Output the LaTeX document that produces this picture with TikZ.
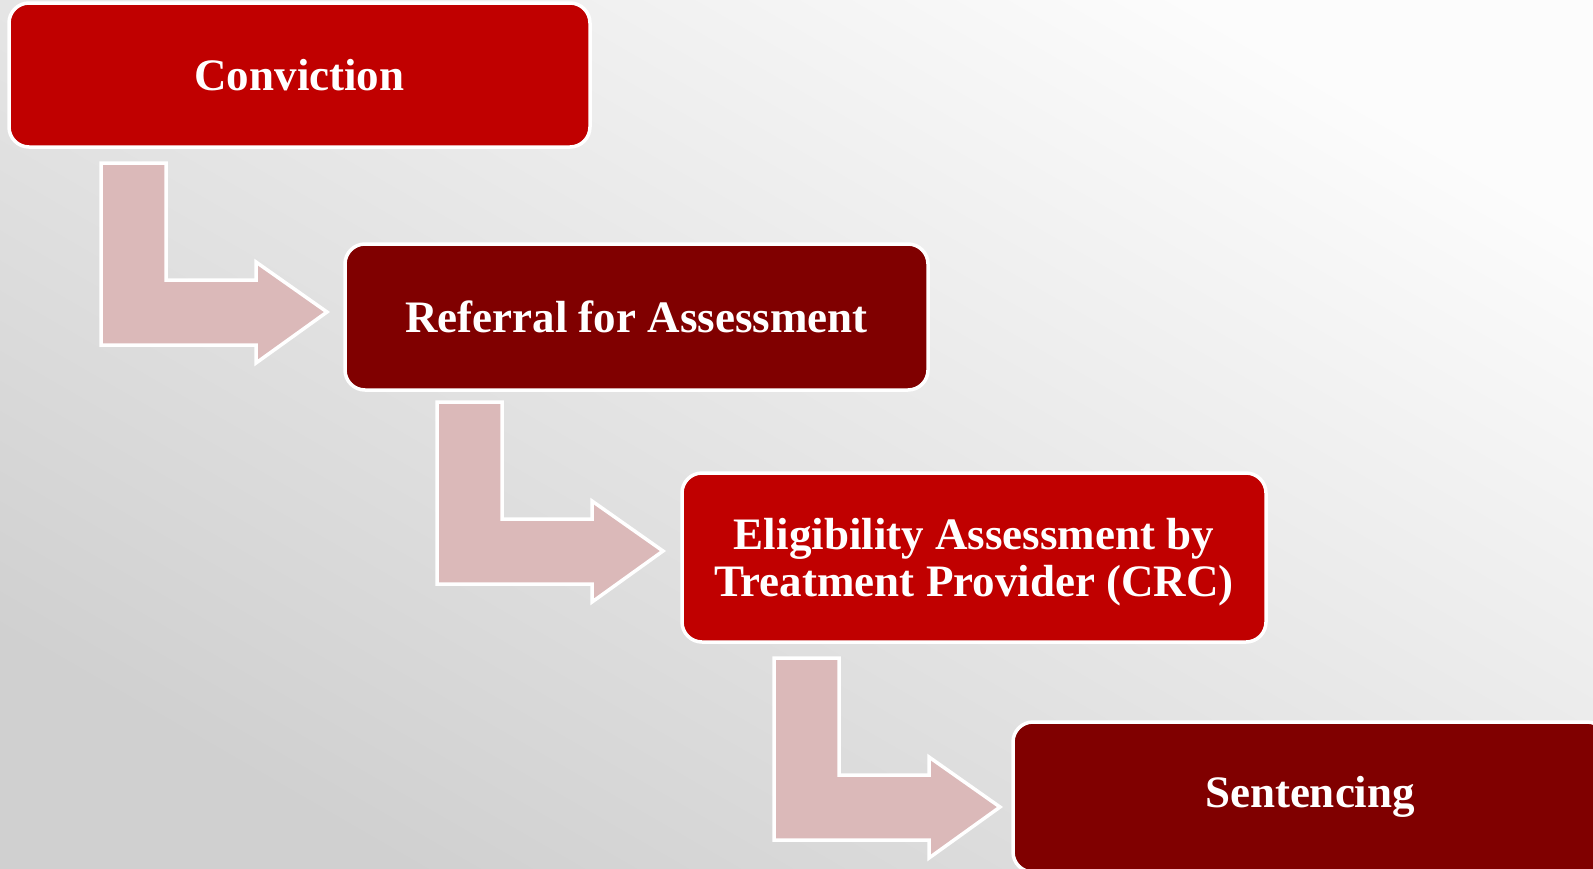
\documentclass[tikz,border=0pt]{standalone}
\usepackage{fontspec}
\setmainfont{Liberation Serif}
\definecolor{redA}{HTML}{C00000}
\definecolor{redB}{HTML}{800000}
\definecolor{arrowfill}{HTML}{DBB9B9}
\definecolor{bgdark}{HTML}{D0D0D0}
\definecolor{bglight}{HTML}{FCFCFC}
\tikzset{
  stepbox/.style={draw=white, line width=3.5pt, rounded corners=20pt,
    text=white, font=\fontsize{45}{47}\selectfont\bfseries, align=center,
    inner sep=0pt, anchor=center},
  bentarrow/.pic={
    \draw[draw=white, line width=3.5pt, fill=arrowfill, line join=miter]
      (0,0) -- (65,0) -- (65,117) -- (155,117) -- (155,99) -- (226,149)
      -- (155,200) -- (155,182) -- (0,182) -- cycle;
  }
}
\begin{document}
\begin{tikzpicture}[x=1pt,y=-1pt]
\useasboundingbox (0,0) rectangle (1593,868);
\clip (0,0) rectangle (1593,868);
\shade[top color=bglight, bottom color=bgdark, shading angle=-30] (-10,-10) rectangle (1603,878);
\node[stepbox, fill=redA, minimum width=581pt, minimum height=144pt] (conv) at (299.5,75) {Conviction};
\node[stepbox, fill=redB, minimum width=583pt, minimum height=146pt] (ref) at (636.5,317) {Referral for Assessment};
\node[stepbox, fill=redA, minimum width=584pt, minimum height=169pt] (elig) at (974,557.5) {\rule{0pt}{40pt}Eligibility Assessment by\\Treatment Provider (CRC)};
\node[stepbox, fill=redB, minimum width=594pt, minimum height=150pt] (sent) at (1310,797) {Sentencing};
\pic at (101,163) {bentarrow};
\pic at (437,402) {bentarrow};
\pic at (774,658) {bentarrow};
\end{tikzpicture}
\end{document}
